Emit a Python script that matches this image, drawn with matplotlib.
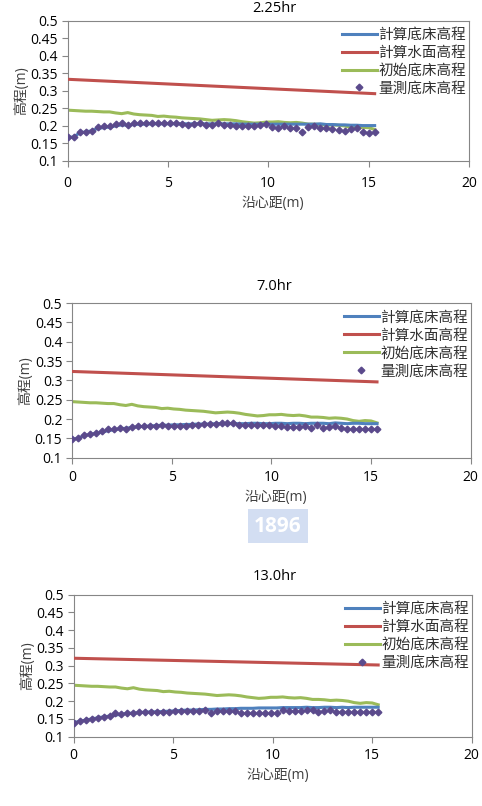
import matplotlib
matplotlib.use("Agg")
import matplotlib.pyplot as plt

plt.rcParams["font.family"] = ["Open Sans", "Noto Sans CJK TC", "DejaVu Sans"]

# along-channel distance of the profile points (m)
x_pts = [0.0, 0.3, 0.6, 0.9, 1.2, 1.5, 1.8, 2.1, 2.4, 2.7, 3.0, 3.3, 3.6,
         3.9, 4.2, 4.5, 4.8, 5.1, 5.4, 5.7, 6.0, 6.3, 6.6, 6.9, 7.2, 7.5,
         7.8, 8.1, 8.4, 8.7, 9.0, 9.3, 9.6, 9.9, 10.2, 10.5, 10.8, 11.1, 11.4,
         11.7, 12.0, 12.3, 12.6, 12.9, 13.2, 13.5, 13.8, 14.1, 14.4, 14.7, 15.0, 15.3]
x_ends = [0.0, 15.3]

initial_bed = [0.245, 0.244, 0.243, 0.242, 0.242, 0.241, 0.240, 0.240, 0.237, 0.235, 0.238, 0.234, 0.232,
               0.231, 0.230, 0.227, 0.228, 0.226, 0.225, 0.223, 0.222, 0.221, 0.220, 0.218, 0.216, 0.217,
               0.218, 0.217, 0.215, 0.212, 0.210, 0.208, 0.209, 0.211, 0.211, 0.212, 0.210, 0.209, 0.210,
               0.208, 0.205, 0.205, 0.204, 0.202, 0.203, 0.202, 0.200, 0.196, 0.194, 0.196, 0.195, 0.190]

titles = ["2.25hr", "7.0hr", "13.0hr"]

calc_bed = [
    [0.168, 0.168, 0.180, 0.183, 0.186, 0.193, 0.195, 0.197, 0.200, 0.203, 0.202, 0.204, 0.205,
     0.205, 0.206, 0.206, 0.206, 0.206, 0.206, 0.206, 0.206, 0.206, 0.206, 0.206, 0.206, 0.206,
     0.206, 0.206, 0.206, 0.205, 0.205, 0.205, 0.205, 0.205, 0.205, 0.205, 0.205, 0.205, 0.205,
     0.205, 0.205, 0.205, 0.206, 0.204, 0.204, 0.203, 0.203, 0.202, 0.202, 0.201, 0.201, 0.201],
    [0.148, 0.150, 0.157, 0.160, 0.163, 0.166, 0.170, 0.172, 0.175, 0.176, 0.178, 0.180, 0.181,
     0.182, 0.183, 0.184, 0.184, 0.185, 0.185, 0.186, 0.186, 0.187, 0.187, 0.187, 0.188, 0.188,
     0.188, 0.188, 0.188, 0.188, 0.189, 0.189, 0.188, 0.188, 0.189, 0.189, 0.188, 0.189, 0.189,
     0.188, 0.189, 0.189, 0.189, 0.188, 0.190, 0.189, 0.188, 0.189, 0.189, 0.188, 0.188, 0.188],
    [0.140, 0.143, 0.147, 0.150, 0.153, 0.156, 0.158, 0.161, 0.163, 0.166, 0.166, 0.168, 0.169,
     0.170, 0.170, 0.171, 0.172, 0.173, 0.174, 0.175, 0.175, 0.176, 0.177, 0.177, 0.178, 0.178,
     0.179, 0.179, 0.180, 0.180, 0.180, 0.181, 0.181, 0.181, 0.181, 0.182, 0.182, 0.182, 0.182,
     0.183, 0.182, 0.182, 0.183, 0.183, 0.182, 0.183, 0.182, 0.183, 0.183, 0.183, 0.183, 0.183],
]

calc_water = [
    [0.333, 0.292],
    [0.323, 0.296],
    [0.321, 0.302],
]

measured_bed = [
    [0.168, 0.168, 0.183, 0.184, 0.186, 0.197, 0.199, 0.200, 0.205, 0.207, 0.203, 0.207, 0.207,
     0.207, 0.208, 0.207, 0.208, 0.208, 0.207, 0.205, 0.204, 0.205, 0.208, 0.204, 0.204, 0.208,
     0.203, 0.204, 0.199, 0.199, 0.199, 0.199, 0.203, 0.205, 0.196, 0.195, 0.199, 0.195, 0.193,
     0.183, 0.196, 0.199, 0.195, 0.194, 0.192, 0.188, 0.186, 0.190, 0.194, 0.184, 0.181, 0.183],
    [0.148, 0.150, 0.159, 0.162, 0.163, 0.168, 0.173, 0.174, 0.177, 0.175, 0.179, 0.181, 0.182,
     0.182, 0.183, 0.184, 0.181, 0.181, 0.182, 0.183, 0.184, 0.184, 0.186, 0.187, 0.187, 0.190,
     0.189, 0.189, 0.185, 0.185, 0.185, 0.185, 0.185, 0.185, 0.183, 0.183, 0.180, 0.180, 0.180,
     0.183, 0.178, 0.184, 0.178, 0.180, 0.183, 0.177, 0.175, 0.175, 0.175, 0.175, 0.175, 0.175],
    [0.140, 0.143, 0.147, 0.150, 0.153, 0.155, 0.158, 0.166, 0.164, 0.168, 0.167, 0.169, 0.170,
     0.169, 0.169, 0.170, 0.170, 0.171, 0.171, 0.171, 0.172, 0.173, 0.175, 0.168, 0.171, 0.172,
     0.173, 0.172, 0.168, 0.168, 0.168, 0.168, 0.168, 0.168, 0.168, 0.174, 0.173, 0.173, 0.173,
     0.174, 0.174, 0.170, 0.173, 0.174, 0.170, 0.170, 0.170, 0.170, 0.170, 0.170, 0.169, 0.169],
]

labels = ["計算底床高程", "計算水面高程", "初始底床高程", "量測底床高程"]
C_BLUE, C_RED, C_GREEN, C_PURPLE = "#4f81bd", "#c0504d", "#9bbb59", "#5b4a8c"

# axes boxes in pixels: left, top, right, bottom (figure is 482 x 806)
W, H = 482, 806
boxes = [(67.5, 20.7, 469, 161), (72, 303, 470.7, 457.7), (73.7, 594.7, 471.7, 736.7)]
title_y = [8, 286, 577]
xlab_y = [203, 497, 776]
tick_pad = [7, 5, 4]

fig = plt.figure(figsize=(W / 100, H / 100), dpi=100)

# faint watermark between the 2nd and 3rd panels
fig.text(278 / W, 1 - 526 / H, "1896", ha="center", va="center", fontsize=15,
         fontweight="bold", color="white",
         bbox=dict(boxstyle="square,pad=0.3", fc="#d3def2", ec="none"))

for i in range(3):
    l, t, r, b = boxes[i]
    ax = fig.add_axes([l / W, 1 - b / H, (r - l) / W, (b - t) / H])
    ax.plot(x_pts, calc_bed[i], color=C_BLUE, lw=2.2, label=labels[0], zorder=3)
    ax.plot(x_ends, calc_water[i], color=C_RED, lw=2.2, label=labels[1], zorder=3)
    ax.plot(x_pts, initial_bed, color=C_GREEN, lw=2.2, label=labels[2], zorder=2)
    ax.plot(x_pts, measured_bed[i], ls="none", marker="D", ms=3.4, color=C_PURPLE,
            label=labels[3], zorder=4)

    ax.set_xlim(0, 20)
    ax.set_ylim(0.1, 0.5)
    ax.set_xticks([0, 5, 10, 15, 20])
    ax.set_yticks([0.1, 0.15, 0.2, 0.25, 0.3, 0.35, 0.4, 0.45, 0.5])
    ax.set_yticklabels(["0.1", "0.15", "0.2", "0.25", "0.3", "0.35", "0.4", "0.45", "0.5"])
    ax.tick_params(labelsize=10, length=4, color="#868686", pad=3)
    ax.tick_params(axis="x", pad=tick_pad[i])
    for s in ax.spines.values():
        s.set_color("#868686")
        s.set_linewidth(0.8)

    ax.set_ylabel("高程(m)", fontsize=10, labelpad=1, color="#404040")
    fig.text((l + r) / 2 / W + 0.01, 1 - xlab_y[i] / H, "沿心距(m)", ha="center",
             va="center", fontsize=10, color="#404040")
    fig.text(0.57, 1 - title_y[i] / H, titles[i], ha="center", va="center",
             fontsize=10.5)

    ax.legend(loc="upper right", bbox_to_anchor=(1.0, 0.97), frameon=False,
              fontsize=10.5, handlelength=2.4, handletextpad=0.1,
              labelspacing=0.2, borderaxespad=0.1, borderpad=0.1,
              labelcolor="#303030")

fig.savefig("out.png", dpi=100)
